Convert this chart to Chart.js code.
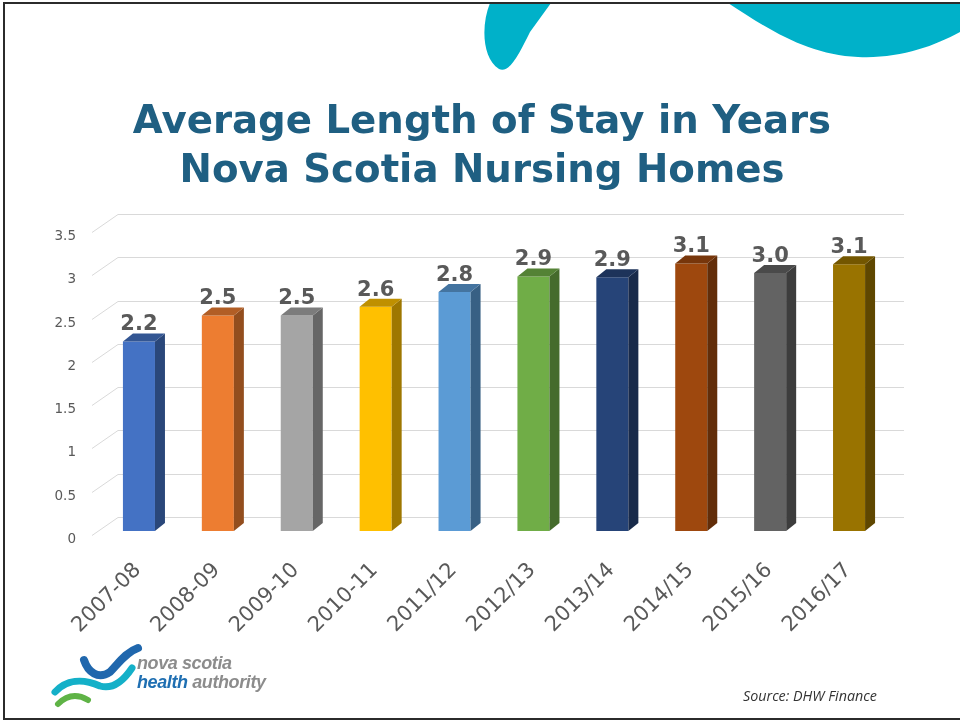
<!DOCTYPE html>
<html>
<head>
<meta charset="utf-8">
<script src="https://cdn.jsdelivr.net/npm/chart.js@4/dist/chart.umd.min.js"></script>
<style>
  html, body { margin: 0; padding: 0; background: #fff; }
  #page { position: relative; width: 960px; height: 721px; overflow: hidden; }
  #frame { position: absolute; left: 3px; top: 2px; width: 970px; height: 714px;
    border-left: 2px solid #2b2b2b; border-top: 2px solid #2b2b2b; border-bottom: 2px solid #2b2b2b; }
  #deco { position: absolute; left: 0; top: 0; }
  #chart { position: absolute; left: 0; top: 0; }
  #title { position: absolute; left: 2px; top: 95px; width: 960px; text-align: center;
    font-family: "DejaVu Sans", sans-serif; font-weight: bold; font-size: 38.7px; line-height: 49px; color: #1f5f82; }
  #source { position: absolute; left: 743px; top: 686px; font-family: "Open Sans", sans-serif;
    font-style: italic; font-size: 14.3px; color: #333; }
  #logo { position: absolute; left: 137px; top: 654px; font-family: "Liberation Sans", sans-serif;
    font-style: italic; font-weight: bold; font-size: 18px; line-height: 19px; color: #8c8c8c; letter-spacing: -0.4px; }
  #logo span { color: #1f6fb2; }
</style>
</head>
<body>
<div id="page">
  <svg id="deco" width="960" height="721">
    <path d="M490,3 C481,25 482,58 499,69 C510,74 520,52 530,32 L551,3 Z" fill="#00b1c9"/>
    <path d="M728,3 C772,32 810,55 858,57 C900,59 935,46 962,31 L962,3 Z" fill="#00b1c9"/>
    <path d="M84,660 C88,672 98,680 110,672 C118,664 126,652 138,648" stroke="#2067ad" stroke-width="8" fill="none" stroke-linecap="round"/>
    <path d="M55,692 C66,680 82,678 100,686 C114,690 124,680 132,668" stroke="#14b0c8" stroke-width="7" fill="none" stroke-linecap="round"/>
    <path d="M58,704 C66,696 76,693 88,700" stroke="#5fb346" stroke-width="6" fill="none" stroke-linecap="round"/>
  </svg>
  <div id="frame"></div>
  <canvas id="chart" width="960" height="721"></canvas>
  <div id="title">Average Length of Stay in Years<br>Nova Scotia Nursing Homes</div>
  <div id="logo">nova scotia<br><span>health</span> authority</div>
  <div id="source">Source: DHW Finance</div>
</div>
<script>
'use strict';

var categories = ['2007-08', '2008-09', '2009-10', '2010-11', '2011/12',
  '2012/13', '2013/14', '2014/15', '2015/16', '2016/17'];
var stayYears = [2.19, 2.49, 2.49, 2.59, 2.76, 2.94, 2.93, 3.09, 2.98, 3.08];
var yTicks = [0, 0.5, 1, 1.5, 2, 2.5, 3, 3.5];

var barColors = ['#4472c4', '#ed7d31', '#a5a5a5', '#ffc000', '#5b9bd5',
  '#70ad47', '#264478', '#9e480e', '#636363', '#997300'];

var depthX = 10;
var depthY = 8;
var labelGrey = '#595959';

function shade(hex, f) {
  var n = parseInt(hex.slice(1), 16);
  var r = Math.round(((n >> 16) & 255) * f);
  var g = Math.round(((n >> 8) & 255) * f);
  var b = Math.round((n & 255) * f);
  return 'rgb(' + r + ',' + g + ',' + b + ')';
}

function poly(ctx, pts, fill) {
  ctx.beginPath();
  ctx.moveTo(pts[0][0], pts[0][1]);
  for (var i = 1; i < pts.length; i++) {
    ctx.lineTo(pts[i][0], pts[i][1]);
  }
  ctx.closePath();
  ctx.fillStyle = fill;
  ctx.fill();
}

var bar3d = {
  id: 'bar3d',
  beforeDatasetsDraw: function(chart) {
    var ctx = chart.ctx;
    var area = chart.chartArea;
    var yScale = chart.scales.y;
    ctx.save();
    ctx.strokeStyle = '#d9d9d9';
    ctx.lineWidth = 1;
    ctx.font = '13.5px "DejaVu Sans"';
    ctx.fillStyle = labelGrey;
    ctx.textAlign = 'right';
    ctx.textBaseline = 'middle';
    yTicks.forEach(function(v) {
      var py = Math.round(yScale.getPixelForValue(v));
      ctx.beginPath();
      ctx.moveTo(area.left - 7.5, py + 4.5);
      ctx.lineTo(area.left + 18.5, py - 13.5);
      ctx.lineTo(area.right + 15.5, py - 13.5);
      ctx.stroke();
      ctx.fillText(String(v), 76, py + 8);
    });
    ctx.restore();
  },
  afterDatasetsDraw: function(chart) {
    var ctx = chart.ctx;
    var meta = chart.getDatasetMeta(0);
    ctx.save();
    meta.data.forEach(function(bar, i) {
      var p = bar.getProps(['x', 'y', 'base', 'width'], true);
      var l = p.x - p.width / 2;
      var r = p.x + p.width / 2;
      poly(ctx, [[r, p.y], [r + depthX, p.y - depthY], [r + depthX, p.base - depthY], [r, p.base]],
        shade(barColors[i], 0.62));
      poly(ctx, [[l, p.y], [l + depthX, p.y - depthY], [r + depthX, p.y - depthY], [r, p.y]],
        shade(barColors[i], 0.75));

      ctx.fillStyle = labelGrey;
      ctx.font = 'bold 21px "DejaVu Sans"';
      ctx.textAlign = 'center';
      ctx.textBaseline = 'alphabetic';
      ctx.fillText(stayYears[i].toFixed(1), p.x, p.y - 11);

      ctx.save();
      ctx.translate(p.x - 1, 567);
      ctx.rotate(-Math.PI / 4);
      ctx.font = '21px "DejaVu Sans"';
      ctx.textAlign = 'right';
      ctx.textBaseline = 'middle';
      ctx.fillText(categories[i], 0, 0);
      ctx.restore();
    });
    ctx.restore();
  }
};

var chart = new Chart(document.getElementById('chart').getContext('2d'), {
  type: 'bar',
  data: {
    labels: categories,
    datasets: [
      {
        data: stayYears,
        backgroundColor: barColors,
        borderWidth: 0,
        barPercentage: 0.406,
        categoryPercentage: 1
      }
    ]
  },
  options: {
    responsive: false,
    animation: false,
    layout: { padding: { left: 99.5, right: 71.5, top: 228, bottom: 190 } },
    plugins: { legend: { display: false }, tooltip: { enabled: false } },
    scales: {
      x: { display: false },
      y: { display: false, min: 0, max: 3.5 }
    }
  },
  plugins: [bar3d]
});
</script>
</body>
</html>
